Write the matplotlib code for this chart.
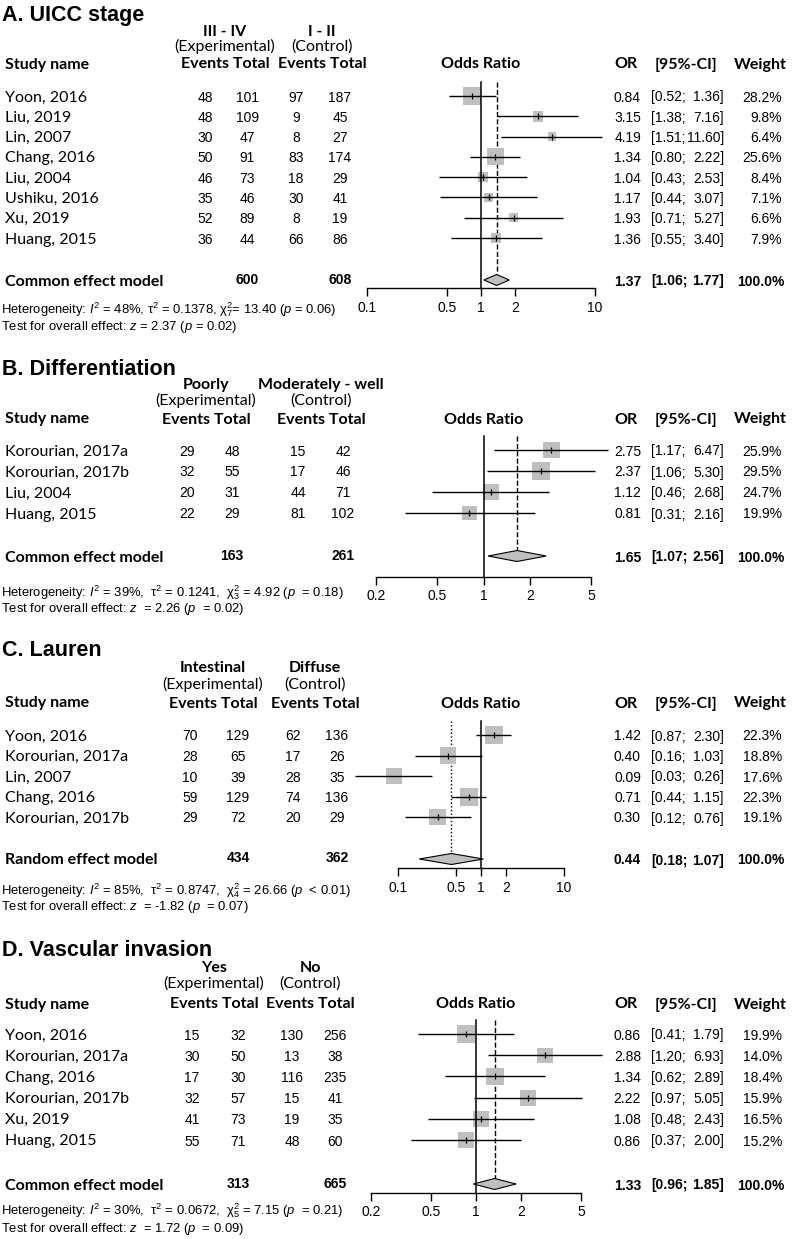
import matplotlib
matplotlib.use("Agg")
import matplotlib.pyplot as plt
import matplotlib.transforms as mtrans
import numpy as np

# ============================================================
# 0) Data
# ============================================================
# A. UICC stage
studies_a = ["Yoon, 2016", "Liu, 2019", "Lin, 2007", "Chang, 2016", "Liu, 2004",
             "Ushiku, 2016", "Xu, 2019", "Huang, 2015"]
ev_exp_a = [48, 48, 30, 50, 46, 35, 52, 36]
tot_exp_a = [101, 109, 47, 91, 73, 46, 89, 44]
ev_ctl_a = [97, 9, 8, 83, 18, 30, 8, 66]
tot_ctl_a = [187, 45, 27, 174, 29, 41, 19, 86]
or_a = [0.84, 3.15, 4.19, 1.34, 1.04, 1.17, 1.93, 1.36]
lo_a = [0.52, 1.38, 1.51, 0.80, 0.43, 0.44, 0.71, 0.55]
hi_a = [1.36, 7.16, 11.60, 2.22, 2.53, 3.07, 5.27, 3.40]
w_a = [28.2, 9.8, 6.4, 25.6, 8.4, 7.1, 6.6, 7.9]
pooled_a = (1.37, 1.06, 1.77)
totals_a = (600, 608)

# B. Differentiation
studies_b = ["Korourian, 2017a", "Korourian, 2017b", "Liu, 2004", "Huang, 2015"]
ev_exp_b = [29, 32, 20, 22]
tot_exp_b = [48, 55, 31, 29]
ev_ctl_b = [15, 17, 44, 81]
tot_ctl_b = [42, 46, 71, 102]
or_b = [2.75, 2.37, 1.12, 0.81]
lo_b = [1.17, 1.06, 0.46, 0.31]
hi_b = [6.47, 5.30, 2.68, 2.16]
w_b = [25.9, 29.5, 24.7, 19.9]
pooled_b = (1.65, 1.07, 2.56)
totals_b = (163, 261)

# C. Lauren
studies_c = ["Yoon, 2016", "Korourian, 2017a", "Lin, 2007", "Chang, 2016", "Korourian, 2017b"]
ev_exp_c = [70, 28, 10, 59, 29]
tot_exp_c = [129, 65, 39, 129, 72]
ev_ctl_c = [62, 17, 28, 74, 20]
tot_ctl_c = [136, 26, 35, 136, 29]
or_c = [1.42, 0.40, 0.09, 0.71, 0.30]
lo_c = [0.87, 0.16, 0.03, 0.44, 0.12]
hi_c = [2.30, 1.03, 0.26, 1.15, 0.76]
w_c = [22.3, 18.8, 17.6, 22.3, 19.1]
pooled_c = (0.44, 0.18, 1.07)
totals_c = (434, 362)

# D. Vascular invasion
studies_d = ["Yoon, 2016", "Korourian, 2017a", "Chang, 2016", "Korourian, 2017b",
             "Xu, 2019", "Huang, 2015"]
ev_exp_d = [15, 30, 17, 32, 41, 55]
tot_exp_d = [32, 50, 30, 57, 73, 71]
ev_ctl_d = [130, 13, 116, 15, 19, 48]
tot_ctl_d = [256, 38, 235, 41, 35, 60]
or_d = [0.86, 2.88, 1.34, 2.22, 1.08, 0.86]
lo_d = [0.41, 1.20, 0.62, 0.97, 0.48, 0.37]
hi_d = [1.79, 6.93, 2.89, 5.05, 2.43, 2.00]
w_d = [19.9, 14.0, 18.4, 15.9, 16.5, 15.2]
pooled_d = (1.33, 0.96, 1.85)
totals_d = (313, 665)

ticks_wide = [0.1, 0.5, 1, 2, 10]
ticks_narrow = [0.2, 0.5, 1, 2, 5]

# ============================================================
# 1) Layout (pixel positions on a 794 x 1239 canvas)
# ============================================================
W, H, DPI = 794, 1239, 100
CAL = "Lato"             # stand-in for Calibri
ARI = "Liberation Sans"  # Arial
CS = 11.5                # Calibri-like text size

plt.rcParams["mathtext.fontset"] = "custom"
plt.rcParams["mathtext.rm"] = ARI
plt.rcParams["mathtext.it"] = ARI + ":italic"
plt.rcParams["mathtext.bf"] = ARI + ":bold"

TAU = r"$\mathrm{\tau}^2$"


def chi(df):
    return r"$\mathrm{\chi}^2_" + str(df) + "$"


panels = [
    dict(title="A. UICC stage", grp=("III - IV", "I - II"),
         studies=studies_a, ee=ev_exp_a, te=tot_exp_a, ec=ev_ctl_a, tc=tot_ctl_a,
         est=or_a, lo=lo_a, hi=hi_a, w=w_a, pooled=pooled_a, totals=totals_a,
         model="Common effect model", ls="--", ticks=ticks_wide, lim=(0.1, 10),
         het=r"Heterogeneity: $I^2$ = 48%, " + TAU + " = 0.1378, " + chi(7) + r"= 13.40 ($p$ = 0.06)",
         test=r"Test for overall effect: $z$ = 2.37 ($p$ = 0.02)",
         title_y=13, hdr_y=(30, 45, 63), col_x=(205, 247, 296, 340), grp_x=(225, 322),
         row0=96, step=20.3, sum_y=280, het_y=(310, 327), x0=367, x1=595, axis_y=288),
    dict(title="B. Differentiation", grp=("Poorly", "Moderately - well"),
         studies=studies_b, ee=ev_exp_b, te=tot_exp_b, ec=ev_ctl_b, tc=tot_ctl_b,
         est=or_b, lo=lo_b, hi=hi_b, w=w_b, pooled=pooled_b, totals=totals_b,
         model="Common effect model", ls="--", ticks=ticks_narrow, lim=(0.2, 5),
         het=r"Heterogeneity: $I^2$ = 39%,  " + TAU + " = 0.1241,  " + chi(3) + r" = 4.92 ($p$  = 0.18)",
         test=r"Test for overall effect: $z$  = 2.26 ($p$  = 0.02)",
         title_y=367, hdr_y=(383, 399, 418), col_x=(187, 232, 298, 343), grp_x=(206, 321),
         row0=450, step=21, sum_y=556, het_y=(593, 609), x0=376, x1=591, axis_y=577),
    dict(title="C. Lauren", grp=("Intestinal", "Diffuse"),
         studies=studies_c, ee=ev_exp_c, te=tot_exp_c, ec=ev_ctl_c, tc=tot_ctl_c,
         est=or_c, lo=lo_c, hi=hi_c, w=w_c, pooled=pooled_c, totals=totals_c,
         model="Random effect model", ls=":", ticks=ticks_wide, lim=(0.1, 10),
         het=r"Heterogeneity: $I^2$ = 85%,  " + TAU + " = 0.8747,  " + chi(4) + r" = 26.66 ($p$  < 0.01)",
         test=r"Test for overall effect: $z$  = -1.82 ($p$  = 0.07)",
         title_y=648, hdr_y=(667, 683, 702), col_x=(190, 238, 293, 337), grp_x=(213, 315),
         row0=735, step=20.5, sum_y=859, het_y=(891, 907), x0=398, x1=564, axis_y=868),
    dict(title="D. Vascular invasion", grp=("Yes", "No"),
         studies=studies_d, ee=ev_exp_d, te=tot_exp_d, ec=ev_ctl_d, tc=tot_ctl_d,
         est=or_d, lo=lo_d, hi=hi_d, w=w_d, pooled=pooled_d, totals=totals_d,
         model="Common effect model", ls="--", ticks=ticks_narrow, lim=(0.2, 5),
         het=r"Heterogeneity: $I^2$ = 30%,  " + TAU + " = 0.0672,  " + chi(5) + r" = 7.15 ($p$  = 0.21)",
         test=r"Test for overall effect: $z$  = 1.72 ($p$  = 0.09)",
         title_y=948, hdr_y=(966, 982, 1003), col_x=(192, 238, 292, 335), grp_x=(214, 310),
         row0=1034, step=21.2, sum_y=1184, het_y=(1211, 1229), x0=371, x1=581, axis_y=1193),
]

fig = plt.figure(figsize=(W / DPI, H / DPI), dpi=DPI)


def fx(x):
    return x / W


def fy(y):
    return 1 - y / H


def txt(x, y, s, size=10, fam=ARI, weight="normal", ha="left", va="center_baseline"):
    fig.text(fx(x), fy(y), s, fontsize=size, family=fam, weight=weight,
             ha=ha, va=va)


# ============================================================
# 2) Panels
# ============================================================
for p in panels:
    n = len(p["studies"])
    rows = p["row0"] + p["step"] * np.arange(n)
    top = p["row0"] - 14
    sy = p["sum_y"]

    # left-hand table
    txt(2, p["title_y"], p["title"], size=15.5, weight="bold")
    h1, h2, h3 = p["hdr_y"]
    gx_e, gx_c = p["grp_x"]
    txt(gx_e, h1, p["grp"][0], size=CS, fam=CAL, weight="bold", ha="center")
    txt(gx_c, h1, p["grp"][1], size=CS, fam=CAL, weight="bold", ha="center")
    txt(gx_e, h2, "(Experimental)", size=CS, fam=CAL, ha="center")
    txt(gx_c, h2, "(Control)", size=CS, fam=CAL, ha="center")
    txt(5, h3, "Study name", size=CS, fam=CAL, weight="bold")
    txt(gx_e, h3, "Events Total", size=CS, fam=CAL, weight="bold", ha="center")
    txt(gx_c, h3, "Events Total", size=CS, fam=CAL, weight="bold", ha="center")

    cx = p["col_x"]
    for i in range(n):
        y = rows[i]
        txt(5, y, p["studies"][i], size=CS, fam=CAL)
        for x, v in zip(cx, (p["ee"][i], p["te"][i], p["ec"][i], p["tc"][i])):
            txt(x, y, str(v), ha="center")
        txt(641, y, f"{p['est'][i]:.2f}", ha="right")
        txt(651, y, f"[{p['lo'][i]:.2f};", ha="left")
        txt(724, y, f"{p['hi'][i]:.2f}]", ha="right")
        txt(782, y, f"{p['w'][i]:.1f}%", ha="right")

    txt(5, sy, p["model"], size=CS, fam=CAL, weight="bold")
    txt(cx[1], sy - 2, str(p["totals"][0]), weight="bold", ha="center")
    txt(cx[3], sy - 2, str(p["totals"][1]), weight="bold", ha="center")
    est, plo, phi = p["pooled"]
    txt(641, sy, f"{est:.2f}", weight="bold", ha="right")
    txt(651, sy, f"[{plo:.2f};", weight="bold", ha="left")
    txt(724, sy, f"{phi:.2f}]", weight="bold", ha="right")
    txt(784, sy, "100.0%", weight="bold", ha="right")

    txt(626, h3, "OR", size=CS, fam=CAL, weight="bold", ha="center")
    txt(686, h3, "[95%-CI]", size=CS, fam=CAL, weight="bold", ha="center")
    txt(760, h3, "Weight", size=CS, fam=CAL, weight="bold", ha="center")

    txt(1, p["het_y"][0], p["het"], size=9.4, va="center")
    txt(1, p["het_y"][1], p["test"], size=9.4, va="center")

    # forest
    ax = fig.add_axes([fx(p["x0"]), fy(p["axis_y"]),
                       (p["x1"] - p["x0"]) / W, (p["axis_y"] - top) / H])
    ax.set_xscale("log")
    ax.set_xlim(*p["lim"])
    ax.set_ylim(p["axis_y"], top)
    ax.patch.set_visible(False)
    for s in ("left", "top", "right"):
        ax.spines[s].set_visible(False)
    ax.spines["bottom"].set_linewidth(1.0)
    ax.spines["bottom"].set_bounds(*p["lim"])
    ax.set_yticks([])
    ax.set_xticks(p["ticks"])
    ax.set_xticklabels([f"{t:g}" for t in p["ticks"]], family=ARI, fontsize=10)
    ax.minorticks_off()
    ax.tick_params(axis="x", length=6, width=1.0, pad=3, direction="out")

    trans = mtrans.blended_transform_factory(ax.transData, fig.transFigure)
    ax.text(1, fy(h3), "Odds Ratio", transform=trans, ha="center", va="center_baseline",
            family=CAL, weight="bold", fontsize=CS)

    ax.plot([1, 1], [top, p["axis_y"]], color="black", lw=1.1, clip_on=False, zorder=2)
    dh = 5.5
    ax.plot([est, est], [top, sy - dh], color="black", lw=1.0, ls=p["ls"],
            clip_on=False, zorder=1)

    ax.hlines(rows, p["lo"], p["hi"], color="black", lw=1.0, clip_on=False, zorder=2)
    w = np.array(p["w"])
    side_pt = 18 * np.sqrt(w / w.max()) * 72 / DPI
    ax.scatter(p["est"], rows, s=side_pt ** 2, marker="s", color="#bfbfbf",
               linewidths=0, zorder=1, clip_on=False)
    ax.vlines(p["est"], rows - 3, rows + 3, color="black", lw=0.9, zorder=3)

    ax.fill([plo, est, phi, est], [sy, sy - dh, sy, sy + dh], facecolor="#bfbfbf",
            edgecolor="black", lw=0.8, zorder=3, clip_on=False)

fig.savefig("out.png", dpi=DPI)
